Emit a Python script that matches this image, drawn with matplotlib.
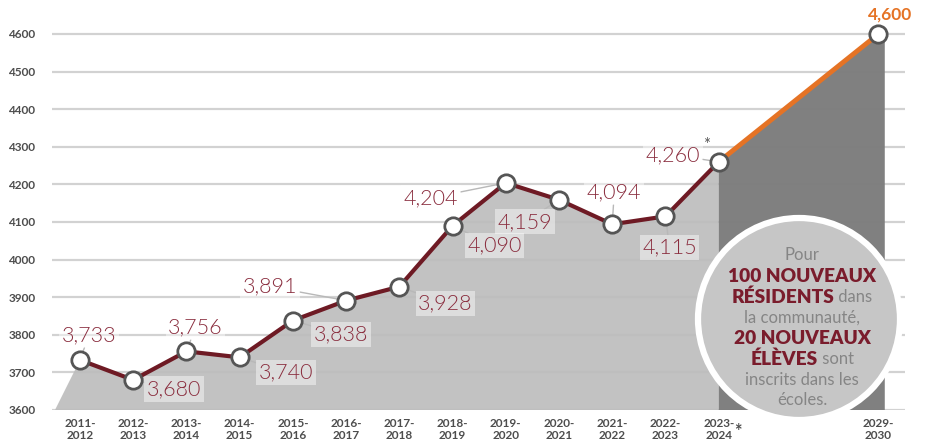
import matplotlib
matplotlib.use("Agg")
import matplotlib.pyplot as plt
from matplotlib.patches import Circle, Polygon
import numpy as np

# ---- data ----
categories = ["2011-\n2012", "2012-\n2013", "2013-\n2014", "2014-\n2015", "2015-\n2016",
              "2016-\n2017", "2017-\n2018", "2018-\n2019", "2019-\n2020", "2020-\n2021",
              "2021-\n2022", "2022-\n2023", "2023-\n2024", "2029-\n2030"]
positions = [0, 1, 2, 3, 4, 5, 6, 7, 8, 9, 10, 11, 12, 15]
values = [3733, 3680, 3756, 3740, 3838, 3891, 3928, 4090, 4204, 4159, 4094, 4115, 4260, 4600]
value_labels = ["3,733", "3,680", "3,756", "3,740", "3,838", "3,891", "3,928", "4,090",
                "4,204", "4,159", "4,094", "4,115", "4,260*", "4,600"]
yticks = [3600, 3700, 3800, 3900, 4000, 4100, 4200, 4300, 4400, 4500, 4600]

# label offsets (pixels, dx right, dy down)
label_offsets = [(9, -25), (41, 9), (9, -24), (46, 15), (48, 14), (-76, -14), (46, 17),
                 (42, 20), (-75, 15), (-34, 22), (2, -32), (4, 31), (-46, -7), (12, -19)]

W, H = 925, 443
fig = plt.figure(figsize=(W / 100, H / 100), dpi=100)
ax_left, ax_right = 52, 905
ax_bottom, ax_top = 410, 4
ax = fig.add_axes([ax_left / W, 1 - ax_bottom / H, (ax_right - ax_left) / W, (ax_bottom - ax_top) / H])
px_per_100 = 37.6
ymax = 3600 + (ax_bottom - ax_top) / px_per_100 * 100
ax.set_ylim(3600, ymax)
ax.set_xlim(-0.526, 15.5)
for s in ax.spines.values():
    s.set_visible(False)

# gridlines
for yv in yticks:
    ax.axhline(yv, color="#d2d2d2", lw=1.6, zorder=0)

hist_x = positions[:13]
hist_y = values[:13]
# light gray area
poly_light = [(-0.47, 3600)] + list(zip(hist_x, hist_y)) + [(12, 3600)]
ax.add_patch(Polygon(poly_light, closed=True, facecolor="#bdbdbd", edgecolor="none", alpha=0.92, zorder=1))
# dark gray projection area
poly_dark = [(12, 3600), (12, values[12]), (15, values[13]), (15.12, values[13] - 4), (15.12, 3600)]
ax.add_patch(Polygon(poly_dark, closed=True, facecolor="#7c7c7c", edgecolor="none", alpha=0.97, zorder=1))

# lines
ax.plot(hist_x, hist_y, color="#6e1a24", lw=3, zorder=3, solid_capstyle="round")
ax.plot(positions[12:], values[12:], color="#e57325", lw=3.5, zorder=3)

# value labels with leader lines
for i, (x, y, lab, (dx, dy)) in enumerate(zip(positions, values, value_labels, label_offsets)):
    orange = (i == len(values) - 1)
    if orange:
        ax.annotate(lab, xy=(x, y), xytext=(dx * 0.72, -dy * 0.72), textcoords="offset points",
                    ha="center", va="center", fontsize=12.5, color="#e57325",
                    family="Lato", fontweight="bold", zorder=5, annotation_clip=False)
    else:
        txt = lab.replace("*", "")
        ax.annotate(txt, xy=(x, y), xytext=(dx * 0.72, -dy * 0.72), textcoords="offset points",
                    ha="center", va="center", fontsize=15.5, color="#8a2d3e",
                    family="Lato", fontweight=300, zorder=2.5,
                    bbox=dict(boxstyle="square,pad=0.12", facecolor="white", edgecolor="none", alpha=0.45),
                    arrowprops=dict(arrowstyle="-", color="#b8b8b8", lw=1, shrinkA=0, shrinkB=0),
                    annotation_clip=False)
        if lab.endswith("*"):
            ax.annotate("*", xy=(x, y), xytext=((dx + 34) * 0.72, -(dy - 10) * 0.72),
                        textcoords="offset points", ha="center", va="center", fontsize=12,
                        color="#555555", family="Lato", zorder=5, annotation_clip=False)

# markers
ax.plot(positions, values, linestyle="none", marker="o", markersize=12.5,
        markerfacecolor="white", markeredgecolor="#555555", markeredgewidth=2, zorder=4)

# ticks
ax.set_yticks(yticks)
ax.set_yticklabels([str(v) for v in yticks], family="Lato", fontweight="bold",
                   fontsize=8.5, color="#4d4d4d")
ax.tick_params(axis="y", length=0, pad=12)
ax.set_xticks(positions)
ax.set_xticklabels(categories, family="Lato", fontweight="bold", fontsize=8.5,
                   color="#4d4d4d", linespacing=1.1)
ax.tick_params(axis="x", length=0, pad=6)
fig.text(738 / W, 1 - 431 / H, "*", fontsize=13, color="#4d4d4d", family="Lato",
         fontweight="bold", ha="center", va="center")

# callout circle (in pixel space)
cx, cy, r = 799, 319, 101
circ = Circle((cx / 100, (H - cy) / 100), r / 100, transform=fig.dpi_scale_trans,
              facecolor="#c6c6c6", edgecolor="white", lw=4.5, zorder=10)
fig.patches.append(circ)

gray = "#858585"
red = "#7a1c2c"
lines = [
    (255, [("Pour", gray, "normal", 12)]),
    (276, [("100 NOUVEAUX", red, "heavy", 13.8)]),
    (297, [("RÉSIDENTS", red, "heavy", 13.8), (" dans", gray, "normal", 12)]),
    (318, [("la communauté,", gray, "normal", 12)]),
    (339, [("20 NOUVEAUX", red, "heavy", 13.8)]),
    (359, [("ÉLÈVES", red, "heavy", 13.8), (" sont", gray, "normal", 12)]),
    (380, [("inscrits dans les", gray, "normal", 12)]),
    (400, [("écoles.", gray, "normal", 12)]),
]
renderer = fig.canvas.get_renderer()
for ypx, parts in lines:
    texts = []
    widths = []
    for s, c, w, fs in parts:
        t = fig.text(0, 1 - ypx / H, s, color=c, fontweight=w, fontsize=fs, family="Lato",
                     ha="left", va="center", zorder=11)
        bb = t.get_window_extent(renderer)
        texts.append(t)
        widths.append(bb.width)
    total = sum(widths)
    x0 = 802 - total / 2
    for t, wd in zip(texts, widths):
        t.set_x(x0 / W)
        x0 += wd

fig.savefig("out.png", dpi=100)
